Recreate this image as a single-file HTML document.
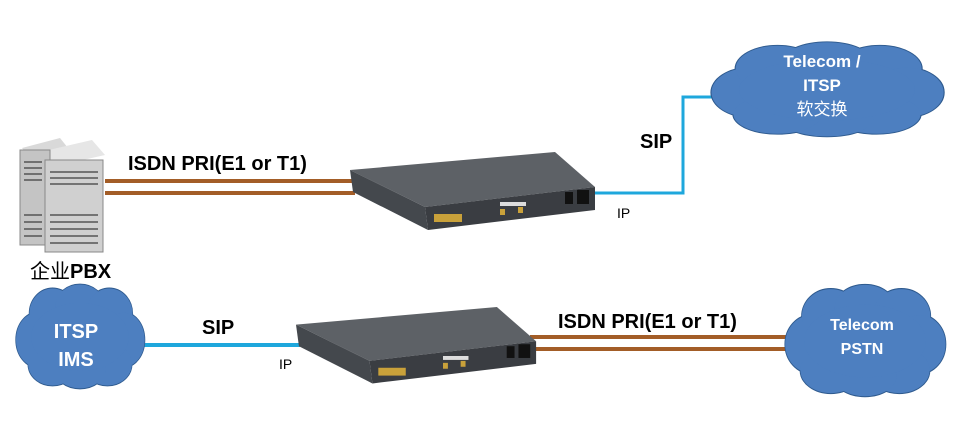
<!DOCTYPE html>
<html><head><meta charset="utf-8"><style>
html,body{margin:0;padding:0;background:#fff;}
svg{display:block;}
text{font-family:"Liberation Sans","Noto Sans CJK SC",sans-serif;}
</style></head><body>
<svg width="960" height="432" viewBox="0 0 960 432" xmlns="http://www.w3.org/2000/svg">
<defs>
<g id="cl">
 <ellipse cx="-70" cy="5" rx="35" ry="28"/>
 <ellipse cx="-45" cy="-22" rx="38" ry="26"/>
 <ellipse cx="0" cy="-30" rx="40" ry="22"/>
 <ellipse cx="48" cy="-22" rx="38" ry="26"/>
 <ellipse cx="72" cy="5" rx="34" ry="28"/>
 <ellipse cx="45" cy="30" rx="40" ry="22"/>
 <ellipse cx="0" cy="35" rx="42" ry="20"/>
 <ellipse cx="-45" cy="30" rx="40" ry="22"/>
 <ellipse cx="0" cy="2" rx="80" ry="35"/>
</g>
<g id="dev">
 <polygon points="0,18 205,0 245,35 75,55" fill="#5d6166"/>
 <polygon points="0,18 75,55 78,78 3,40" fill="#44484d"/>
 <polygon points="75,55 245,35 245,58 78,78" fill="#3a3d42"/>
 <rect x="84" y="62" width="28" height="8" fill="#c9a13a"/>
 <rect x="150" y="50" width="26" height="4" fill="#ddd"/>
 <rect x="150" y="57" width="5" height="6" fill="#c9a13a"/>
 <rect x="168" y="55" width="5" height="6" fill="#c9a13a"/>
 <rect x="215" y="40" width="8" height="12" fill="#111"/>
 <rect x="227" y="38" width="12" height="14" fill="#111"/>
</g>
</defs>
<line x1="105" y1="181" x2="355" y2="181" stroke="#a35d27" stroke-width="4"/>
<line x1="105" y1="193" x2="355" y2="193" stroke="#a35d27" stroke-width="4"/>
<polyline points="590,193 683,193 683,97 720,97" fill="none" stroke="#1ea7dc" stroke-width="3"/>
<line x1="140" y1="345" x2="300" y2="345" stroke="#1ea7dc" stroke-width="4"/>
<line x1="530" y1="337" x2="795" y2="337" stroke="#a35d27" stroke-width="4"/>
<line x1="530" y1="349" x2="795" y2="349" stroke="#a35d27" stroke-width="4"/>
<use href="#dev" transform="translate(350,152)"/>
<use href="#dev" transform="translate(296,307) scale(0.98)"/>
<g>
 <polygon points="22,148 60,138 68,148 30,158" fill="#d9d9d9"/>
 <polygon points="40,152 92,140 105,155 52,167" fill="#e6e6e6"/>
 <rect x="20" y="150" width="30" height="95" fill="#c4c4c4" stroke="#888"/>
 <rect x="45" y="160" width="58" height="92" fill="#d0d0d0" stroke="#888"/>
 <g stroke="#555" stroke-width="1.5">
  <line x1="24" y1="162" x2="42" y2="162"/><line x1="24" y1="168" x2="42" y2="168"/><line x1="24" y1="174" x2="42" y2="174"/><line x1="24" y1="180" x2="42" y2="180"/>
  <line x1="24" y1="215" x2="42" y2="215"/><line x1="24" y1="222" x2="42" y2="222"/><line x1="24" y1="229" x2="42" y2="229"/><line x1="24" y1="236" x2="42" y2="236"/>
  <line x1="50" y1="172" x2="98" y2="172"/><line x1="50" y1="178" x2="98" y2="178"/><line x1="50" y1="184" x2="98" y2="184"/>
  <line x1="50" y1="215" x2="98" y2="215"/><line x1="50" y1="222" x2="98" y2="222"/><line x1="50" y1="229" x2="98" y2="229"/><line x1="50" y1="236" x2="98" y2="236"/><line x1="50" y1="243" x2="98" y2="243"/>
 </g>
</g>
<g fill="#4d7fc0" stroke="#2e5a8e" stroke-width="2"><use href="#cl" transform="translate(827,88) scale(1.1,0.88)"/></g>
<g fill="#4d7fc0"><use href="#cl" transform="translate(827,88) scale(1.1,0.88)"/></g>
<g fill="#4d7fc0" stroke="#2e5a8e" stroke-width="2"><use href="#cl" transform="translate(80,335) scale(0.61,0.97)"/></g>
<g fill="#4d7fc0"><use href="#cl" transform="translate(80,335) scale(0.61,0.97)"/></g>
<g fill="#4d7fc0" stroke="#2e5a8e" stroke-width="2"><use href="#cl" transform="translate(865,339) scale(0.76,1.04)"/></g>
<g fill="#4d7fc0"><use href="#cl" transform="translate(865,339) scale(0.76,1.04)"/></g>
<g font-weight="bold" fill="#000" font-size="20">
 <text x="128" y="170">ISDN PRI(E1 or T1)</text>
 <text x="640" y="148">SIP</text>
 <text x="202" y="334">SIP</text>
 <text x="558" y="328">ISDN PRI(E1 or T1)</text>
</g>
<text x="30" y="278" font-size="20"><tspan>企业</tspan><tspan font-weight="bold">PBX</tspan></text>
<text x="617" y="218" font-size="14">IP</text>
<text x="279" y="369" font-size="14">IP</text>
<g fill="#fff" font-weight="bold" text-anchor="middle">
 <text x="822" y="67" font-size="17">Telecom /</text>
 <text x="822" y="91" font-size="17">ITSP</text>
 <text x="822" y="115" font-size="17" font-weight="normal">软交换</text>
 <text x="76" y="338" font-size="20">ITSP</text>
 <text x="76" y="366" font-size="20">IMS</text>
 <text x="862" y="330" font-size="16">Telecom</text>
 <text x="862" y="354" font-size="16">PSTN</text>
</g>
</svg>
</body></html>
